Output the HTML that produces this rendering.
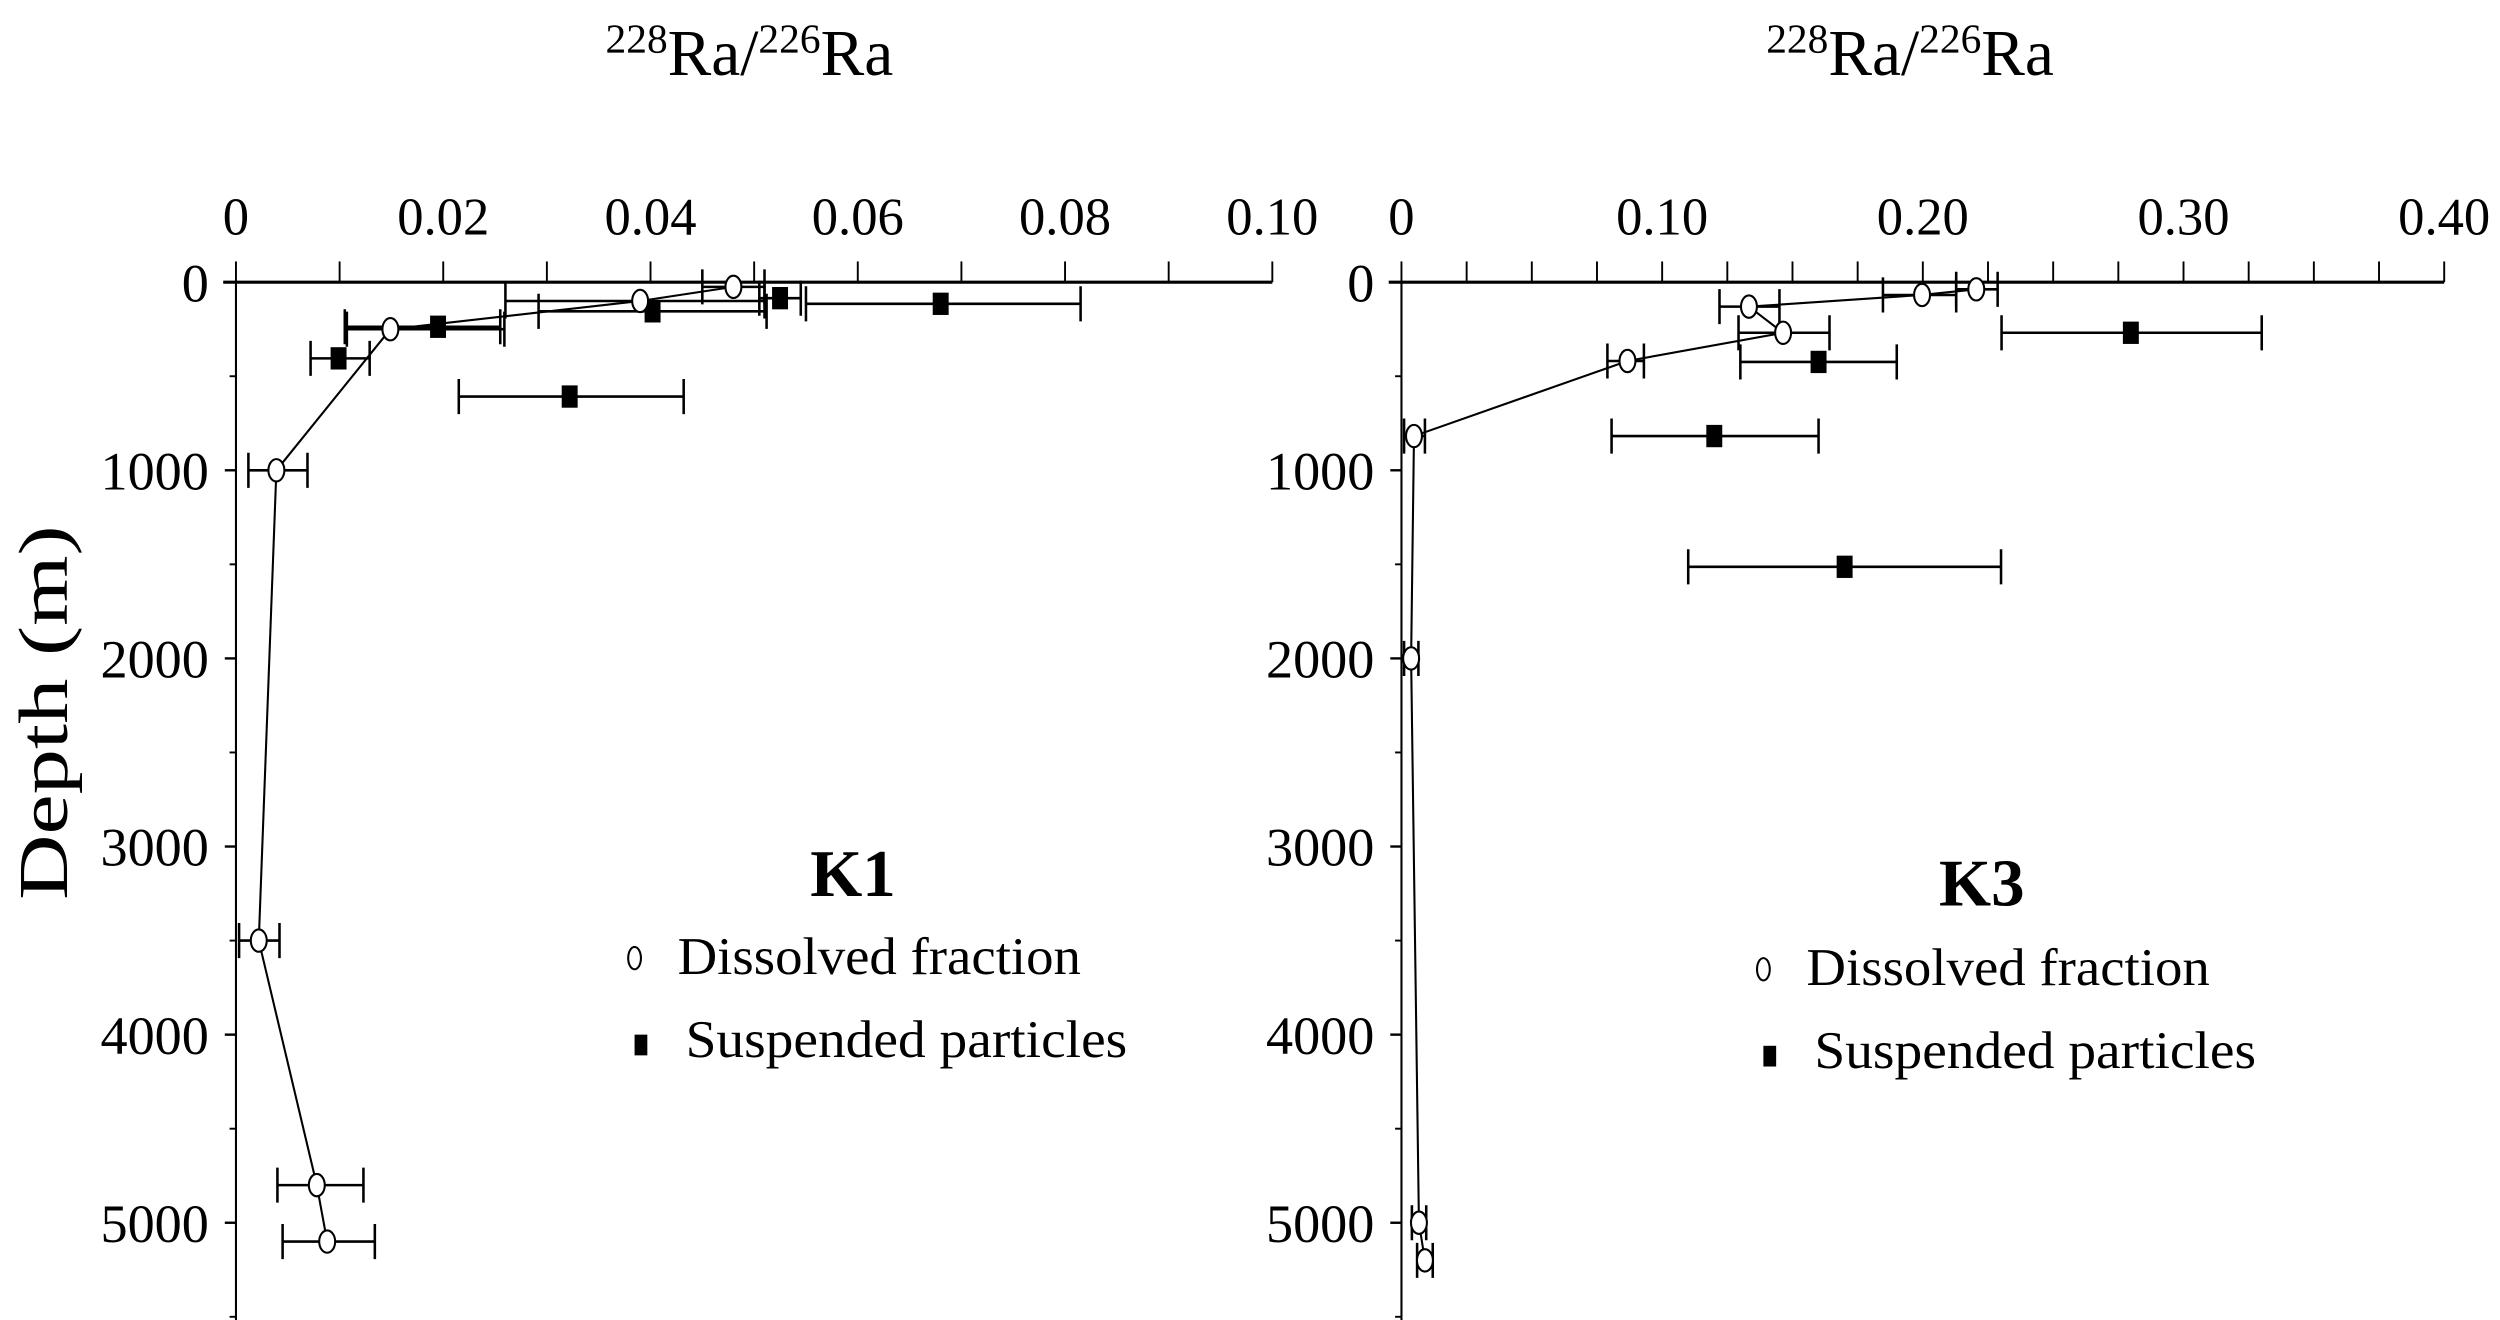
<!DOCTYPE html>
<html><head><meta charset="utf-8"><style>
html,body{margin:0;padding:0;background:#fff}
svg{display:block}
text{font-family:"Liberation Serif",serif;fill:#000}
</style></head><body>
<svg id="chart" width="2500" height="1320" viewBox="0 0 1568 828" preserveAspectRatio="none" xmlns="http://www.w3.org/2000/svg">
<g id="g1"></g>
<g id="g3"></g>
<text transform="translate(42,447) rotate(-90)" text-anchor="middle" font-size="44" textLength="235" lengthAdjust="spacingAndGlyphs">Depth (m)</text>
</svg>
<script>
// K1 data
const k1XTicks = [0, 0.02, 0.04, 0.06, 0.08, 0.10];
const k1XTickLabels = ["0", "0.02", "0.04", "0.06", "0.08", "0.10"];
const k1DissDepth = [25, 100, 250, 1000, 3500, 4800, 5100];
const k1DissVal = [0.048, 0.039, 0.0149, 0.0039, 0.0022, 0.0078, 0.0088];
const k1DissLo = [0.045, 0.026, 0.0107, 0.0012, 0.0003, 0.004, 0.0045];
const k1DissHi = [0.051, 0.051, 0.0259, 0.0069, 0.0042, 0.0123, 0.0134];
const k1SuspDepth = [85, 115, 155, 237, 405, 608];
const k1SuspVal = [0.0525, 0.068, 0.0402, 0.0195, 0.0099, 0.0322];
const k1SuspLo = [0.0505, 0.055, 0.0292, 0.0105, 0.0072, 0.0215];
const k1SuspHi = [0.0545, 0.0815, 0.0512, 0.0255, 0.0129, 0.0432];
// K3 data
const k3XTicks = [0, 0.10, 0.20, 0.30, 0.40];
const k3XTickLabels = ["0", "0.10", "0.20", "0.30", "0.40"];
const k3DissDepth = [38, 68, 130, 269, 419, 818, 2000, 5000, 5200];
const k3DissVal = [0.2205, 0.1997, 0.1333, 0.1464, 0.0867, 0.0048, 0.0037, 0.0067, 0.009];
const k3DissLo = [0.2128, 0.1847, 0.122, 0.1293, 0.079, 0.001, 0.001, 0.004, 0.006];
const k3DissHi = [0.2287, 0.2128, 0.145, 0.1642, 0.093, 0.009, 0.0065, 0.0095, 0.012];
const k3SuspDepth = [269, 424, 818, 1513];
const k3SuspVal = [0.2798, 0.16, 0.12, 0.17];
const k3SuspLo = [0.2302, 0.130, 0.0806, 0.110];
const k3SuspHi = [0.330, 0.190, 0.160, 0.230];
const yTicks = [0, 1000, 2000, 3000, 4000, 5000];
const yTickLabels = ["0", "1000", "2000", "3000", "4000", "5000"];

const NS = "http://www.w3.org/2000/svg";
function mk(parent, tag, attrs) {
  const e = document.createElementNS(NS, tag);
  for (const k in attrs) e.setAttribute(k, attrs[k]);
  parent.appendChild(e);
  return e;
}
function yScale(d) { return 177 + d * 0.118; }

function panel(g, x0, xw, xmax, xTicks, xLabels, minorStep, dD, dV, dLo, dHi, sD, sV, sLo, sHi, station, stLoc, legLoc, titleX) {
  const xs = v => x0 + v / xmax * xw;
  let e;
  e = mk(g, "line", {x1: x0 - 8, y1: 177, x2: x0 + xw, y2: 177, stroke: "#000", "stroke-width": 2});
  
  
  e = mk(g, "line", {x1: x0, y1: 177, x2: x0, y2: 828, stroke: "#000", "stroke-width": 1.3});
  
  
  for (let v = 0; v <= xmax + 1e-9; v += minorStep) {
    e = mk(g, "line", {x1: xs(v), y1: 177, x2: xs(v), y2: 164, stroke: "#000", "stroke-width": 1.2});
    
    
  }
  xTicks.forEach((v, i) => {
    e = mk(g, "text", {x: xs(v), y: 147, "text-anchor": "middle", "font-size": 33});
    e.textContent = xLabels[i];
    
    
  });
  yTicks.forEach((d, i) => {
    e = mk(g, "line", {x1: x0 - 7, y1: yScale(d), x2: x0, y2: yScale(d), stroke: "#000", "stroke-width": 1.5});
    
    
    e = mk(g, "text", {x: x0 - 17, y: yScale(d) + 12, "text-anchor": "end", "font-size": 34});
    e.textContent = yTickLabels[i];
    
    
    e = mk(g, "line", {x1: x0 - 4, y1: yScale(d + 500), x2: x0, y2: yScale(d + 500), stroke: "#000", "stroke-width": 1.2});
    
    
  });
  const pts = dD.map((d, i) => xs(dV[i]) + "," + yScale(d)).join(" ");
  e = mk(g, "polyline", {points: pts, fill: "none", stroke: "#000", "stroke-width": 1.3});
  
  
  function errbar(v1, v2, y, name) {
    const b = mk(g, "path", {d: `M${xs(v1)},${y}H${xs(v2)}M${xs(v1)},${y-11}V${y+11}M${xs(v2)},${y-11}V${y+11}`, stroke: "#000", "stroke-width": 1.6, fill: "none"});
    
    
  }
  sD.forEach((d, i) => {
    errbar(sLo[i], sHi[i], yScale(d), 'suspended-error-bar');
    e = mk(g, "rect", {x: xs(sV[i]) - 5, y: yScale(d) - 7, width: 10, height: 14, fill: "#000"});
    
    
  });
  dD.forEach((d, i) => {
    errbar(dLo[i], dHi[i], yScale(d), 'dissolved-error-bar');
    e = mk(g, "ellipse", {cx: xs(dV[i]), cy: yScale(d), rx: 5, ry: 7, fill: "#fff", stroke: "#000", "stroke-width": 1.3});
    
    
  });
  e = mk(g, "text", {x: titleX, y: 47, "text-anchor": "middle", "font-size": 41});
  e.innerHTML = '<tspan dy="-14" font-size="26">228</tspan><tspan dy="14">Ra/</tspan><tspan dy="-14" font-size="26">226</tspan><tspan dy="14">Ra</tspan>';
  
  
  e = mk(g, "text", {x: stLoc[0], y: stLoc[1], "text-anchor": "middle", "font-size": 42, "font-weight": "bold"});
  e.textContent = station;
  
  
  const [lx, ly] = legLoc;
  e = mk(g, "ellipse", {cx: lx, cy: ly, rx: 4, ry: 7, fill: "#fff", stroke: "#000", "stroke-width": 1.3});
  
  
  e = mk(g, "text", {x: lx + 27, y: ly + 10, "font-size": 33, textLength: 253, lengthAdjust: "spacingAndGlyphs"});
  e.textContent = "Dissolved fraction";
  
  
  e = mk(g, "rect", {x: lx, y: ly + 48, width: 8, height: 13, fill: "#000"});
  
  
  e = mk(g, "text", {x: lx + 32, y: ly + 62, "font-size": 33, textLength: 277, lengthAdjust: "spacingAndGlyphs"});
  e.textContent = "Suspended particles";
  
  
}
panel(document.getElementById("g1"), 148, 650, 0.10, k1XTicks, k1XTickLabels, 0.01,
  k1DissDepth, k1DissVal, k1DissLo, k1DissHi, k1SuspDepth, k1SuspVal, k1SuspLo, k1SuspHi, "K1", [535, 562], [398, 601], 470);
panel(document.getElementById("g3"), 879, 654, 0.40, k3XTicks, k3XTickLabels, 0.025,
  k3DissDepth, k3DissVal, k3DissLo, k3DissHi, k3SuspDepth, k3SuspVal, k3SuspLo, k3SuspHi, "K3", [1243, 568], [1106, 608], 1198);
</script>
</body></html>
